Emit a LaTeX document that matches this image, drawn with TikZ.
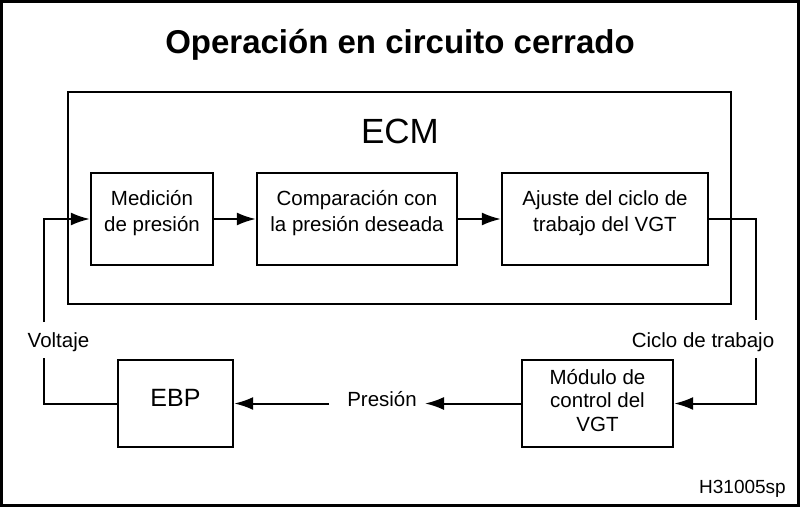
\documentclass[tikz,border=0pt]{standalone}
\usepackage{fontspec}
\setmainfont{Liberation Sans}
\usetikzlibrary{arrows.meta}
\begin{document}
\begin{tikzpicture}[x=1pt,y=-1pt,
  box/.style={draw,line width=2.4pt,rectangle,inner sep=0pt},
  txt/.style={inner sep=0pt,align=center,font=\fontsize{20.5}{26}\selectfont},
  conn/.style={line width=2pt},
  arr/.style={line width=2pt,-{Latex[length=19pt,width=13pt]}},
  lbl/.style={font=\fontsize{20.5}{24}\selectfont,anchor=base,inner sep=0pt}]
\useasboundingbox (0,0) rectangle (800,507);
\draw[line width=3pt] (1.5,1.5) rectangle (798.5,505.5);
\node[anchor=base,inner sep=0pt,font=\fontsize{33}{36}\selectfont\bfseries] (title) at (400,53) {Operación en circuito cerrado};
\node[box,minimum width=663pt,minimum height=212pt] (ecm) at (399.5,198) {};
\node[anchor=base,inner sep=0pt,font=\fontsize{35}{40}\selectfont] (ecmlbl) at (400,143) {ECM};
\node[box,minimum width=122pt,minimum height=92pt] (b1) at (152,219) {};
\node[box,minimum width=200pt,minimum height=92pt] (b2) at (357,219) {};
\node[box,minimum width=206pt,minimum height=92pt] (b3) at (605,219) {};
\node[box,minimum width=151pt,minimum height=87pt] (mod) at (597.5,403.5) {};
\node[box,minimum width=115pt,minimum height=87pt] (ebp) at (175.5,403.5) {};
\node[txt] (t1) at (152,213.5) {Medición\\de presión};
\node[txt] (t2) at (357,213.5) {Comparación con\\la presión deseada};
\node[txt] (t3) at (605,213.5) {Ajuste del ciclo de\\trabajo del VGT};
\node[txt,font=\fontsize{20.5}{23.5}\selectfont] (t4) at (597.5,400.5) {Módulo de\\control del\\VGT};
\node[txt,font=\fontsize{25}{30}\selectfont] (t5) at (175.5,398) {EBP};
\draw[arr] (b1) -- (b2);
\draw[arr] (b2) -- (b3);
% Ciclo de trabajo
\coordinate (c1) at (756,219);
\coordinate (c2) at (756,320);
\coordinate (c3) at (756,358);
\coordinate (c4) at (756,403.5);
\draw[conn] (b3.east) -- (c1) -- (c2);
\node[lbl] (ciclo) at (703,347) {Ciclo de trabajo};
\draw[arr] (c3) -- (c4) -- (mod.east);
% Presion
\coordinate (p1) at (425,403.5);
\coordinate (p2) at (329,403.5);
\draw[arr] (mod.west) -- (p1);
\node[lbl] (pres) at (382,406) {Presión};
\draw[arr] (p2) -- (ebp.east);
% Voltaje
\coordinate (v1) at (44,403.5);
\coordinate (v2) at (44,358);
\coordinate (v3) at (44,322);
\coordinate (v4) at (44,219);
\draw[conn] (ebp.west) -- (v1) -- (v2);
\node[lbl] (volt) at (58.5,347) {Voltaje};
\draw[arr] (v3) -- (v4) -- (b1.west);
\node[anchor=base east,inner sep=0pt,font=\fontsize{19}{22}\selectfont] (code) at (786,493) {H31005sp};
\end{tikzpicture}
\end{document}
